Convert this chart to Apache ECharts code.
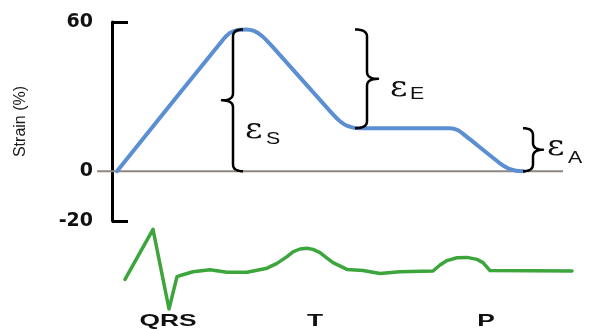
<!DOCTYPE html>
<html><head><meta charset="utf-8">
<script src="https://cdn.jsdelivr.net/npm/echarts@6/dist/echarts.min.js"></script>
<style>html,body{margin:0;padding:0;background:#fff}#c{width:592px;height:329px}</style>
</head><body><div id="c"></div>
<script>
// ---- data ----
const strainX = [5, 110, 118, 126, 134, 142, 150, 160, 218, 228, 236, 246, 338, 346, 354, 388, 396, 404, 412];
const strainY = [0, 52.4, 55.6, 56.8, 57.0, 56.4, 54.4, 50.3, 24.2, 20.1, 18.1, 17.3, 17.3, 16.5, 14.1, 3.2, 1.2, 0.2, 0];
const ecgX = [13, 41, 57, 65, 70, 81, 98, 115, 135, 155, 165, 175, 181, 188, 195, 201, 208, 215, 221, 235, 251, 268, 288, 321, 328, 335, 345, 355, 365, 371, 378, 460];
const ecgY = [-0.21, 1.04, -0.95, -0.14, -0.1, -0.02, 0.03, -0.03, -0.03, 0.07, 0.19, 0.36, 0.48, 0.55, 0.57, 0.54, 0.46, 0.32, 0.21, 0.04, 0.01, -0.06, -0.02, 0, 0.15, 0.26, 0.33, 0.34, 0.29, 0.21, 0.01, 0];
const baselineX = [-15, 451];
const yLabelValues = [-20, 0, 60];
const yBracketValues = [-20, 60];
const yTitle = 'Strain (%)';
const ecgLabels = ['QRS', 'T', 'P'];
const ecgLabelX = [56, 203, 374];
const strainNames = ['S', 'E', 'A'];

const peak = Math.max.apply(null, strainY);
const plateau = strainY[11];

// ---- layout / style (not data) ----
const braceCfg = [
  {name: strainNames[0], from: 0, to: peak, x: 121, dir: -1, w: 11, h: 10, ex: 12, ey: 30, sx: 33, sy: 39},
  {name: strainNames[1], from: plateau, to: peak, x: 255, dir: 1, w: 11, h: 12, ex: 23, ey: 10, sx: 43, sy: 15},
  {name: strainNames[2], from: 0, to: plateau, x: 421, dir: 1, w: 10, h: 10, ex: 14, ey: -2, sx: 35, sy: 9}
];

const chart = echarts.init(document.getElementById('c'), null, {renderer: 'canvas'});
const gridL = 97, gridR = 17;
chart.setOption({
  animation: false,
  backgroundColor: '#ffffff',
  grid: [
    {left: gridL, right: gridR, top: 22, bottom: 108, outerBoundsMode: 'none'},
    {left: gridL, right: gridR, top: 219, height: 100, outerBoundsMode: 'none'}
  ],
  xAxis: [
    {gridIndex: 0, type: 'value', min: -15, max: 463, show: false},
    {gridIndex: 1, type: 'value', min: -15, max: 463, show: false}
  ],
  yAxis: [
    {
      gridIndex: 0, type: 'value', min: -20, max: 60, interval: 20,
      axisLine: {show: true, onZero: true, lineStyle: {color: '#000', width: 3}},
      axisTick: {show: true, inside: true, length: 16, customValues: yBracketValues, lineStyle: {color: '#000', width: 3}},
      axisLabel: {show: true, customValues: yLabelValues, margin: 4,
        fontFamily: 'DejaVu Sans', fontWeight: 'bold', fontSize: 19, color: '#111'},
      splitLine: {show: false}
    },
    {gridIndex: 1, type: 'value', min: -1.2, max: 1.3, show: false}
  ],
  series: [
    {
      type: 'line', xAxisIndex: 0, yAxisIndex: 0, symbol: 'none', z: 1, silent: true,
      data: baselineX.map(x => [x, 0]),
      lineStyle: {color: '#8e8781', width: 2}
    },
    {
      type: 'line', xAxisIndex: 0, yAxisIndex: 0, symbol: 'none', z: 3, smooth: 0.3,
      data: strainX.map((x, i) => [x, strainY[i]]),
      lineStyle: {color: '#5b8fd2', width: 4, cap: 'round', join: 'round'}
    },
    {
      type: 'line', xAxisIndex: 1, yAxisIndex: 1, symbol: 'none', z: 3,
      data: ecgX.map((x, i) => [x, ecgY[i]]),
      lineStyle: {color: '#3ca53c', width: 3.5, cap: 'round', join: 'round'}
    }
  ]
});

function quad(pts, p0, c, p1) {
  for (let i = 1; i <= 8; i++) {
    const t = i / 8, a = (1 - t) * (1 - t), b = 2 * (1 - t) * t, d = t * t;
    pts.push([a * p0[0] + b * c[0] + d * p1[0], a * p0[1] + b * c[1] + d * p1[1]]);
  }
}
function bracePoints(x, y1, y2, dir, w, h) {
  const ym = (y1 + y2) / 2, r = 7;
  const hx = x - dir * h, tx = x + dir * w;
  const pts = [[hx, y1]];
  quad(pts, [hx, y1], [x, y1], [x, y1 + r]);
  pts.push([x, ym - r]);
  quad(pts, [x, ym - r], [x, ym], [tx, ym]);
  quad(pts, [tx, ym], [x, ym], [x, ym + r]);
  pts.push([x, y2 - r]);
  quad(pts, [x, y2 - r], [x, y2], [hx, y2]);
  return pts;
}

const graphics = [];
// y axis title, centred on the axis span
const yTop = chart.convertToPixel({gridIndex: 0}, [0, 60]);
const yBot = chart.convertToPixel({gridIndex: 0}, [0, -20]);
graphics.push({
  type: 'text', z: 10, x: 21, y: (yTop[1] + yBot[1]) / 2, rotation: Math.PI / 2,
  style: {text: yTitle, font: '16px "Liberation Sans"', fill: '#1a1a1a', textAlign: 'center', textVerticalAlign: 'middle'}
});
braceCfg.forEach(b => {
  const pTop = chart.convertToPixel({gridIndex: 0}, [b.x, b.to]);
  const pBot = chart.convertToPixel({gridIndex: 0}, [b.x, b.from]);
  const x = pTop[0], y1 = pTop[1], y2 = pBot[1], ym = (y1 + y2) / 2;
  graphics.push({
    type: 'polyline', z: 10,
    shape: {points: bracePoints(x, y1, y2, b.dir, b.w, b.h)},
    style: {stroke: '#000', fill: null, lineWidth: 2.5, lineJoin: 'round'}
  });
  graphics.push({
    type: 'text', z: 10, x: x + b.ex, y: ym + b.ey, scaleX: 1.2,
    style: {text: 'ε', font: '28px "DejaVu Serif"', fill: '#111', textAlign: 'left', textVerticalAlign: 'middle'}
  });
  graphics.push({
    type: 'text', z: 10, x: x + b.sx, y: ym + b.sy, scaleX: 1.25,
    style: {text: b.name, font: '17px "Liberation Sans"', fill: '#111', textAlign: 'left', textVerticalAlign: 'middle'}
  });
});
ecgLabels.forEach((t, i) => {
  const p = chart.convertToPixel({gridIndex: 1}, [ecgLabelX[i], 0]);
  graphics.push({
    type: 'text', z: 10, x: p[0], y: 321.5, scaleX: 1.55,
    style: {text: t, font: 'bold 17px "Liberation Sans"', fill: '#111', textAlign: 'center', textVerticalAlign: 'middle'}
  });
});
chart.setOption({graphic: graphics});
</script>
</body></html>
